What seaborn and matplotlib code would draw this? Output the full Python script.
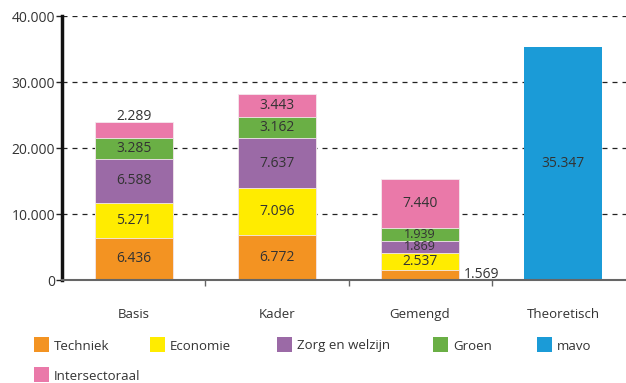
import matplotlib
matplotlib.use("Agg")
import matplotlib.pyplot as plt
from matplotlib.patches import Rectangle
import seaborn as sns
import pandas as pd

# Leerlingen per leerweg en sector
categories = ["Basis", "Kader", "Gemengd", "Theoretisch"]
stack_categories = ["Basis", "Kader", "Gemengd"]
techniek = [6436, 6772, 1569]
economie = [5271, 7096, 2537]
zorg_welzijn = [6588, 7637, 1869]
groen = [3285, 3162, 1939]
intersectoraal = [2289, 3443, 7440]
mavo_categories = ["Theoretisch"]
mavo = [35347]

series_names = ["Techniek", "Economie", "Zorg en welzijn", "Groen", "Intersectoraal"]
series_values = [techniek, economie, zorg_welzijn, groen, intersectoraal]
legend_names = ["Techniek", "Economie", "Zorg en welzijn", "Groen", "mavo", "Intersectoraal"]

colors = {
    "Techniek": "#F39322",
    "Economie": "#FFEC00",
    "Zorg en welzijn": "#9B6AA6",
    "Groen": "#6AAF45",
    "mavo": "#1B9BD7",
    "Intersectoraal": "#EA79A9",
}

sns.set_theme(style="white")
plt.rcParams["font.family"] = ["Open Sans", "DejaVu Sans"]
text_color = "#333333"

fig = plt.figure(figsize=(6.26, 3.83), dpi=100)
ax = fig.add_axes([62 / 626, 1 - 280 / 383, 1 - 62 / 626, 264 / 383])

bar_width = 0.55

# cumulative tops per layer, drawn from the tallest down so each layer shows
cum = []
running = [0, 0, 0]
for vals in series_values:
    running = [r + v for r, v in zip(running, vals)]
    cum.append(list(running))

for name, tops in reversed(list(zip(series_names, cum))):
    df = pd.DataFrame({"cat": stack_categories, "val": tops})
    sns.barplot(data=df, x="cat", y="val", order=categories, color=colors[name],
                saturation=1, width=bar_width, edgecolor="#f4e8ee", linewidth=0.6,
                errorbar=None, ax=ax)

df_mavo = pd.DataFrame({"cat": mavo_categories, "val": mavo})
sns.barplot(data=df_mavo, x="cat", y="val", order=categories, color=colors["mavo"],
            saturation=1, width=bar_width, linewidth=0, errorbar=None, ax=ax)


def fmt(v):
    return f"{v:,}".replace(",", ".")


for i, cat in enumerate(stack_categories):
    bottom = 0
    for name, vals in zip(series_names, series_values):
        v = vals[i]
        mid = bottom + v / 2
        # thin segments get a slightly smaller label
        size = 9 if v < 2300 and name != "Techniek" and cat == "Gemengd" else 10
        kw = dict(fontsize=size, color=text_color)
        if cat == "Basis" and name == "Intersectoraal":
            ax.annotate(fmt(v), (i, bottom + v), xytext=(0, 4), textcoords="offset points",
                        ha="center", va="center", **kw)
        elif cat == "Gemengd" and name == "Techniek":
            ax.annotate(fmt(v), (i + bar_width / 2, mid), xytext=(3, 0),
                        textcoords="offset points", ha="left", va="center", **kw)
        else:
            ax.text(i, mid, fmt(v), ha="center", va="center", **kw)
        bottom += v
for cat, v in zip(mavo_categories, mavo):
    i = categories.index(cat)
    ax.text(i, v / 2, fmt(v), ha="center", va="center", fontsize=10, color=text_color)

# axes styling
ax.set_ylim(0, 40000)
ax.set_xlim(-0.503, 3.44)
ax.set_yticks([0, 10000, 20000, 30000, 40000])
ax.set_yticklabels([fmt(t) for t in [0, 10000, 20000, 30000, 40000]])
ax.yaxis.grid(True, linestyle=(0, (4, 4)), color="#222222", linewidth=0.9)
ax.set_axisbelow(True)
ax.set_xlabel("")
ax.set_ylabel("")

ax.set_xticks([0.5, 1.5, 2.5])
ax.set_xticklabels([])
ax.set_xticks(range(len(categories)), minor=True)
ax.set_xticklabels(categories, minor=True)
ax.tick_params(axis="x", which="major", length=4, width=1, color="#666666", direction="out", bottom=True)
ax.tick_params(axis="x", which="minor", length=0, pad=20, labelsize=9.5, labelcolor=text_color)
ax.tick_params(axis="y", length=4, width=1, color="#222222", direction="out", left=True,
               labelsize=10, labelcolor=text_color, pad=1)

for s in ["top", "right"]:
    ax.spines[s].set_visible(False)
ax.spines["left"].set_color("#111111")
ax.spines["left"].set_linewidth(2.5)
ax.spines["bottom"].set_color("#666666")
ax.spines["bottom"].set_linewidth(1.5)

# legend laid out in two rows below the axis
legend_pos = [(34, 337), (150, 337), (277, 337), (433, 337), (537, 337), (34, 367)]
for name, (px, py) in zip(legend_names, legend_pos):
    fig.patches.append(Rectangle((px / 626, 1 - (py + 15) / 383), 15 / 626, 15 / 383,
                                 transform=fig.transFigure, facecolor=colors[name],
                                 edgecolor="none"))
    fig.text((px + 20) / 626, 1 - (py + 9) / 383, name, ha="left", va="center",
             fontsize=9.5, color=text_color)

fig.savefig("out.png", dpi=100)
